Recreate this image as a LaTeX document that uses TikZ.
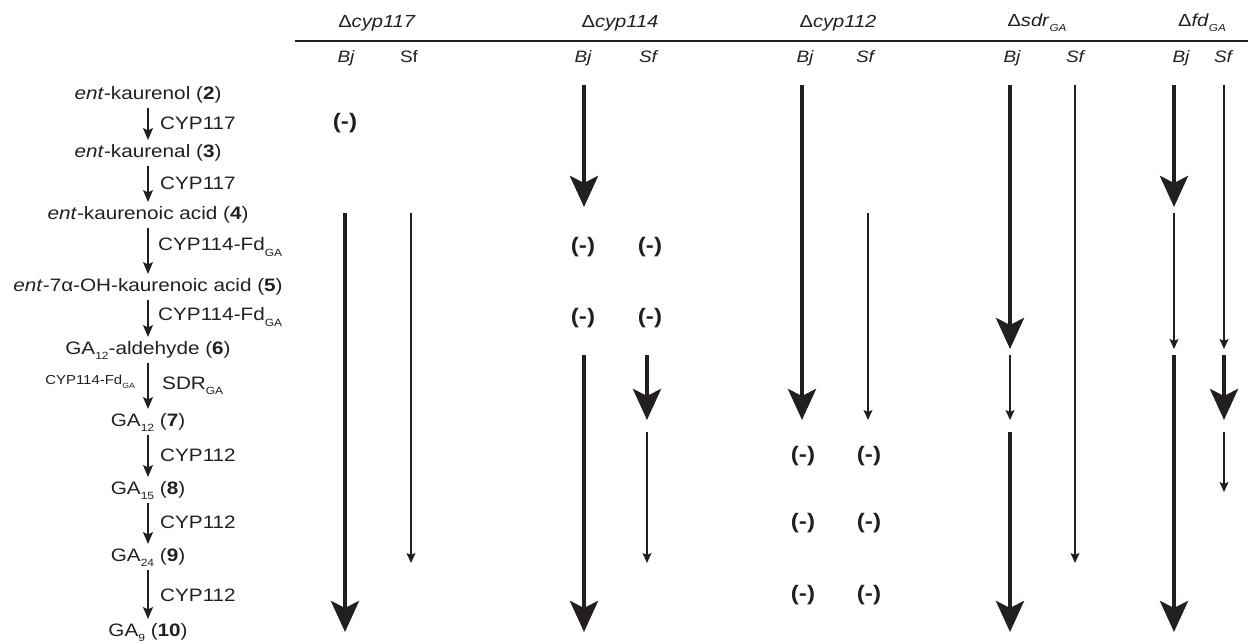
\documentclass[tikz,border=0pt]{standalone}
\usepackage{fontspec}
\usepackage{graphicx}
\setmainfont{Liberation Sans}[FakeStretch=1.15]
\usetikzlibrary{arrows.meta}
\definecolor{ink}{RGB}{35,31,32}
% small lowered index (GA, 12, ...)
\newcommand\lowsub[1]{\raisebox{-0.3em}{\scalebox{0.58}{#1}}}

\begin{document}
\begin{tikzpicture}[x=1pt,y=-1pt,
  every node/.style={text=ink, inner sep=0pt},
  cpd/.style={font=\fontsize{18}{20}\selectfont, text height=13pt, text depth=4pt},
  enz/.style={font=\fontsize{18}{20}\selectfont, anchor=west},
  enzsmall/.style={font=\fontsize{13}{15}\selectfont, anchor=east},
  hdr/.style={font=\fontsize{17.5}{20}\selectfont},
  strain/.style={font=\fontsize{16.5}{19}\selectfont\itshape, anchor=base},
  strainup/.style={font=\fontsize{16.5}{19}\selectfont, anchor=base},
  nil/.style={font=\fontsize{21}{24}\selectfont\bfseries},
  chain/.style={draw=ink, line width=1.5pt, -{Stealth[length=12pt,width=10pt,inset=2.5pt]}},
  fatflux/.style={draw=ink, line width=4.5pt},
  fatarrow/.style={fatflux, -{Stealth[length=31pt,width=28pt,inset=7pt]}},
  thinflux/.style={draw=ink, line width=1.3pt},
  thinarrow/.style={thinflux, -{Stealth[length=10pt,width=9pt,inset=2pt]}},
]
\useasboundingbox (0,0) rectangle (1248,644);

% ---- pathway column ----
\node[cpd] (c2)  at (148,95)  {\textit{ent}-kaurenol (\textbf{2})};
\node[cpd] (c3)  at (148,153) {\textit{ent}-kaurenal (\textbf{3})};
\node[cpd] (c4)  at (148,215) {\textit{ent}-kaurenoic acid (\textbf{4})};
\node[cpd] (c5)  at (148,287) {\textit{ent}-7α-OH-kaurenoic acid (\textbf{5})};
\node[cpd] (c6)  at (148,350) {GA\lowsub{12}-aldehyde (\textbf{6})};
\node[cpd] (c7)  at (148,422) {GA\lowsub{12} (\textbf{7})};
\node[cpd] (c8)  at (148,490) {GA\lowsub{15} (\textbf{8})};
\node[cpd] (c9)  at (148,557) {GA\lowsub{24} (\textbf{9})};
\node[cpd] (c10) at (148,632) {GA\lowsub{9} (\textbf{10})};

\foreach \a/\b in {c2/c3,c3/c4,c4/c5,c5/c6,c6/c7,c7/c8,c8/c9,c9/c10}
  \draw[chain] ([yshift=-13pt]\a.center) -- ([yshift=13pt]\b.center);

\node[enz] (e1) at (160,123) {CYP117};
\node[enz] (e2) at (160,183) {CYP117};
\node[enz] (e3) at (158,247) {CYP114-Fd\lowsub{GA}};
\node[enz] (e4) at (158,317) {CYP114-Fd\lowsub{GA}};
\node[enz] (e5) at (162,386) {SDR\lowsub{GA}};
\node[enzsmall] (e5b) at (135,382) {CYP114-Fd\lowsub{GA}};
\node[enz] (e6) at (160,455) {CYP112};
\node[enz] (e7) at (160,522) {CYP112};
\node[enz] (e8) at (160,595) {CYP112};

% ---- header ----
\node[hdr] (h117) at (377,23) {Δ\textit{cyp117}};
\node[hdr] (h114) at (620,23) {Δ\textit{cyp114}};
\node[hdr] (h112) at (838,23) {Δ\textit{cyp112}};
\node[hdr] (hsdr) at (1037,23) {Δ\textit{sdr}\lowsub{\textit{GA}}};
\node[hdr] (hfd)  at (1202,23) {Δ\textit{fd}\lowsub{\textit{GA}}};
\draw[ink, line width=1.1pt] (295,41) -- (1248,41);

\node[strain]   (sb117) at (346,62.5)  {Bj};
\node[strainup] (ss117) at (409,62.5)  {Sf};
\node[strain]   (sb114) at (583,62.5)  {Bj};
\node[strain]   (ss114) at (648,62.5)  {Sf};
\node[strain]   (sb112) at (805,62.5)  {Bj};
\node[strain]   (ss112) at (865,62.5)  {Sf};
\node[strain]   (sbsdr) at (1012,62.5) {Bj};
\node[strain]   (sssdr) at (1075,62.5) {Sf};
\node[strain]   (sbfd)  at (1181,62.5) {Bj};
\node[strain]   (ssfd)  at (1223,62.5) {Sf};

% ---- lanes and levels ----
\coordinate (k117b) at (345,0);  \coordinate (k117s) at (411,0);
\coordinate (k114b) at (584,0);  \coordinate (k114s) at (647,0);
\coordinate (k112b) at (802,0);  \coordinate (k112s) at (868,0);
\coordinate (ksdrb) at (1010,0); \coordinate (ksdrs) at (1075,0);
\coordinate (kfdb)  at (1174,0); \coordinate (kfds)  at (1224,0);

\coordinate (Ltop) at (0,85);
\coordinate (L3e)  at (0,207);
\coordinate (L4s)  at (0,213);
\coordinate (L6e)  at (0,349);
\coordinate (L6s)  at (0,355);
\coordinate (L7e)  at (0,420);
\coordinate (L7s)  at (0,432);
\coordinate (L8e)  at (0,492);
\coordinate (L9e)  at (0,563);
\coordinate (L10e) at (0,632);

% Delta cyp117
\node[nil] (n117a) at (345,123) {(-)};
\draw[fatarrow]  (k117b |- L4s) -- (k117b |- L10e);
\draw[thinarrow] (k117s |- L4s) -- (k117s |- L9e);

% Delta cyp114
\draw[fatarrow]  (k114b |- Ltop) -- (k114b |- L3e);
\node[nil] (n114a) at (583,247) {(-)};
\node[nil] (n114b) at (650,247) {(-)};
\node[nil] (n114c) at (583,318) {(-)};
\node[nil] (n114d) at (650,318) {(-)};
\draw[fatarrow]  (k114b |- L6s) -- (k114b |- L10e);
\draw[fatarrow]  (k114s |- L6s) -- (k114s |- L7e);
\draw[thinarrow] (k114s |- L7s) -- (k114s |- L9e);

% Delta cyp112
\draw[fatarrow]  (k112b |- Ltop) -- (k112b |- L7e);
\draw[thinarrow] (k112s |- L4s) -- (k112s |- L7e);
\node[nil] (n112a) at (803,456) {(-)};
\node[nil] (n112b) at (869,456) {(-)};
\node[nil] (n112c) at (803,523) {(-)};
\node[nil] (n112d) at (869,523) {(-)};
\node[nil] (n112e) at (803,595) {(-)};
\node[nil] (n112f) at (869,595) {(-)};

% Delta sdrGA
\draw[fatarrow]  (ksdrb |- Ltop) -- (ksdrb |- L6e);
\draw[thinarrow] (ksdrb |- L6s) -- (ksdrb |- L7e);
\draw[fatarrow]  (ksdrb |- L7s) -- (ksdrb |- L10e);
\draw[thinarrow] (ksdrs |- Ltop) -- (ksdrs |- L9e);

% Delta fdGA
\draw[fatarrow]  (kfdb |- Ltop) -- (kfdb |- L3e);
\draw[thinarrow] (kfdb |- L4s) -- (kfdb |- L6e);
\draw[fatarrow]  (kfdb |- L6s) -- (kfdb |- L10e);
\draw[thinarrow] (kfds |- Ltop) -- (kfds |- L6e);
\draw[fatarrow]  (kfds |- L6s) -- (kfds |- L7e);
\draw[thinarrow] (kfds |- L7s) -- (kfds |- L8e);
\end{tikzpicture}
\end{document}
